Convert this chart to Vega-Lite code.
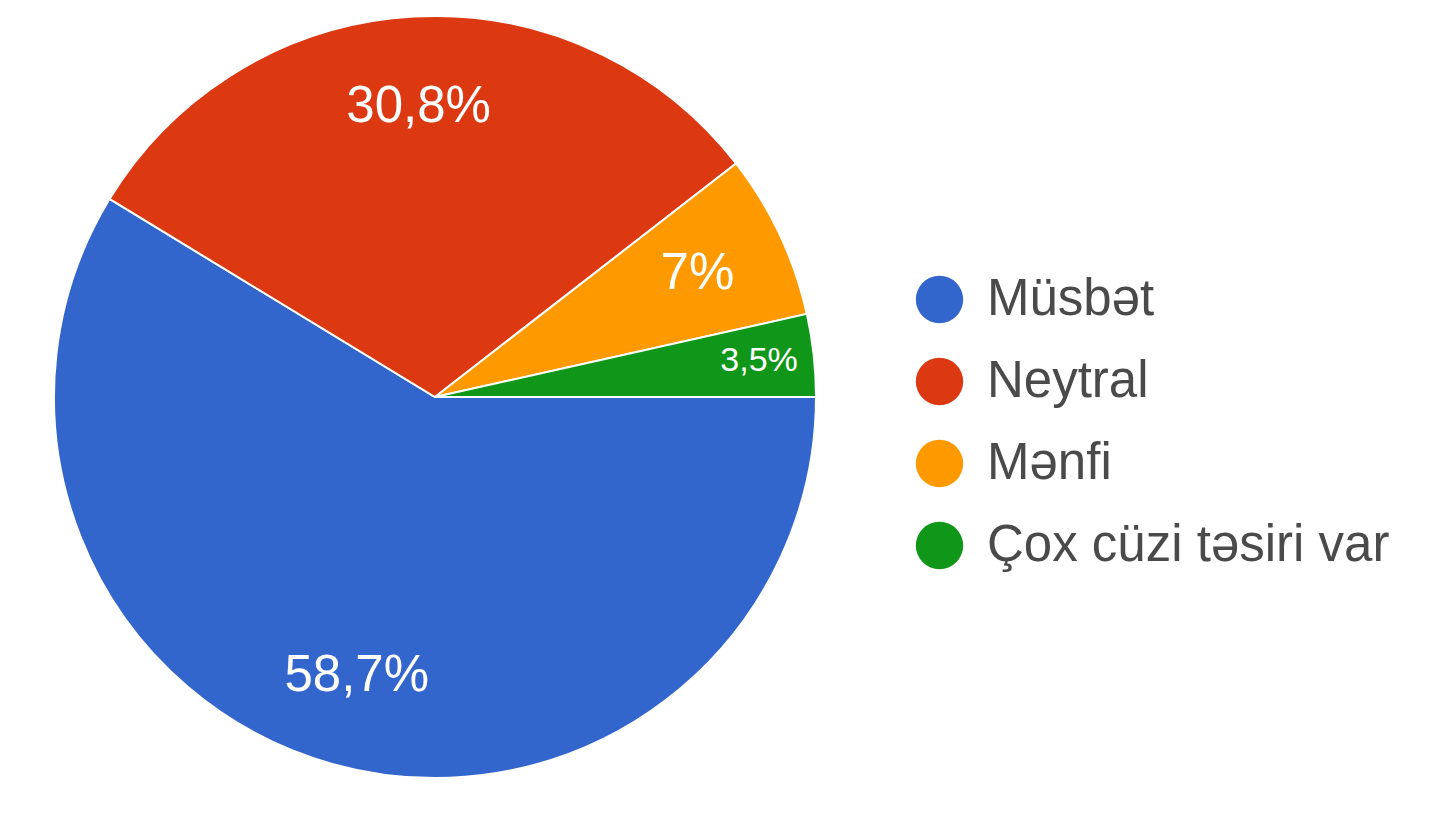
{
  "$schema": "https://vega.github.io/schema/vega-lite/v6.json",
  "width": 870,
  "height": 794,
  "padding": 0,
  "background": "white",
  "view": {"stroke": null},
  "data": {"values": [
    {"kateqoriya": "Müsbət", "faiz": 58.7, "etiket": "58,7%", "o": 1},
    {"kateqoriya": "Neytral", "faiz": 30.8, "etiket": "30,8%", "o": 2},
    {"kateqoriya": "Mənfi", "faiz": 7.0, "etiket": "7%", "o": 3},
    {"kateqoriya": "Çox cüzi təsiri var", "faiz": 3.5, "etiket": "3,5%", "o": 4}
  ]},
  "encoding": {
    "theta": {"field": "faiz", "type": "quantitative", "stack": true, "scale": {"range": [1.5708, 7.85398]}},
    "order": {"field": "o", "type": "quantitative"}
  },
  "layer": [
    {
      "mark": {"type": "arc", "outerRadius": 381, "stroke": "white", "strokeWidth": 2},
      "encoding": {
        "color": {
          "field": "kateqoriya", "type": "nominal",
          "scale": {"domain": ["Müsbət", "Neytral", "Mənfi", "Çox cüzi təsiri var"], "range": ["#3366cc", "#dc3912", "#ff9900", "#109618"]},
          "legend": {
            "title": null, "orient": "none", "legendX": 914, "legendY": 274,
            "symbolType": "circle", "symbolSize": 2250, "symbolStrokeWidth": 0,
            "labelFont": "Liberation Sans", "labelFontSize": 51, "labelColor": "#4a4a4a",
            "labelOffset": 22, "rowPadding": 30, "labelLimit": 700
          }
        }
      }
    },
    {
      "mark": {"type": "text", "radius": 290, "color": "white", "font": "Liberation Sans", "fontSize": 51},
      "encoding": {"text": {"condition": {"test": "datum.faiz > 5", "field": "etiket"}, "value": ""}}
    },
    {
      "mark": {"type": "text", "radius": 326, "color": "white", "font": "Liberation Sans", "fontSize": 34},
      "encoding": {"text": {"condition": {"test": "datum.faiz <= 5", "field": "etiket"}, "value": ""}}
    }
  ]
}
